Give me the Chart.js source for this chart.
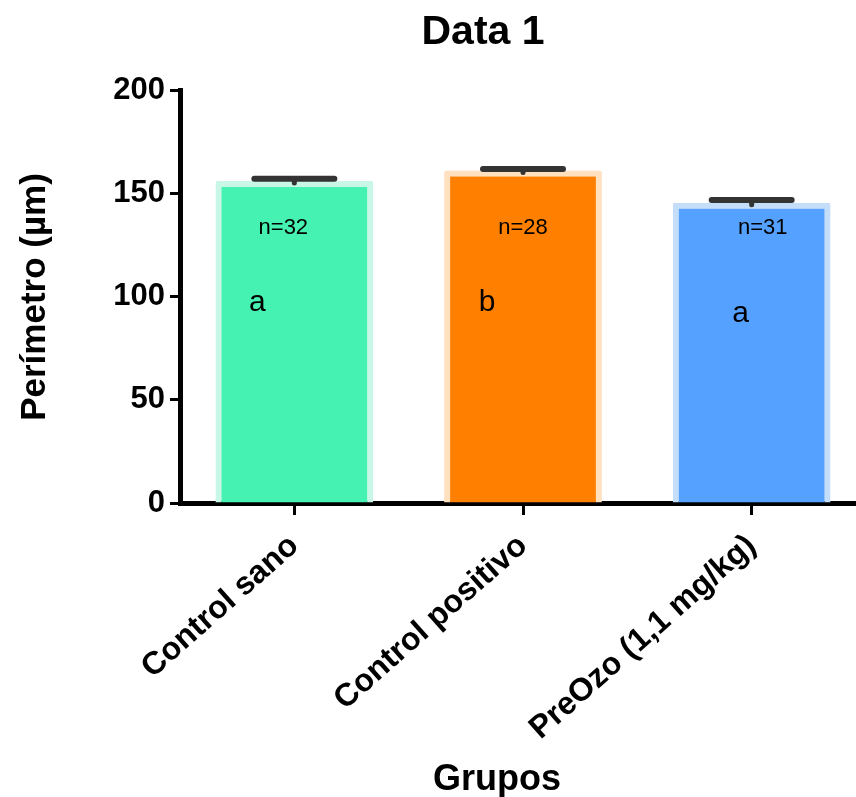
<!DOCTYPE html>
<html>
<head>
<meta charset="utf-8">
<script src="https://cdn.jsdelivr.net/npm/chart.js@4.4.0/dist/chart.umd.min.js"></script>
<style>
  html, body { margin: 0; padding: 0; background: #fff; overflow: hidden; }
  #wrap { width: 856px; height: 797px; overflow: hidden; }
</style>
</head>
<body>
<div id="wrap"><canvas id="chart" width="870" height="797" style="width:870px;height:797px"></canvas></div>
<script>
// chart values
const groups = ['Control sano', 'Control positivo', 'PreOzo (1,1 mg/kg)'];
const means = [155.9, 161.0, 145.4];
const sem = [1.1, 0.8, 1.3];
const nLabels = ['n=32', 'n=28', 'n=31'];
const letters = ['a', 'b', 'a'];
const yTicks = [0, 50, 100, 150, 200];

const fillColors = ['#45F2B2', '#FF8000', '#55A1FF'];
const edgeColors = ['#C9F7E7', '#FFE0BF', '#C4DDF9'];

// where the text inside each bar sits (offset from bar centre, value on y axis)
const nPos = { dx: [-11, 0, 11], y: [133, 133, 133] };
const letterPos = { dx: [-37, -36, -11], y: [97, 97, 91.5] };

const errorBars = {
  id: 'errorBars',
  afterDatasetsDraw(chart) {
    const ctx = chart.ctx;
    const y = chart.scales.y;
    const bars = chart.getDatasetMeta(0).data;
    ctx.save();
    ctx.strokeStyle = '#333';
    ctx.lineCap = 'round';
    bars.forEach((bar, i) => {
      const top = y.getPixelForValue(means[i] + sem[i]);
      const mid = y.getPixelForValue(means[i]);
      ctx.lineWidth = 5;
      ctx.beginPath();
      ctx.moveTo(bar.x, mid + 2);
      ctx.lineTo(bar.x, top);
      ctx.stroke();
      ctx.lineWidth = 6;
      ctx.beginPath();
      ctx.moveTo(bar.x - 40, top);
      ctx.lineTo(bar.x + 40, top);
      ctx.stroke();
    });
    ctx.restore();
  }
};

const labelsAndTitles = {
  id: 'labelsAndTitles',
  afterDraw(chart) {
    const ctx = chart.ctx;
    const y = chart.scales.y;
    const bars = chart.getDatasetMeta(0).data;
    ctx.save();
    ctx.fillStyle = '#000';
    ctx.textAlign = 'center';
    ctx.textBaseline = 'middle';
    bars.forEach((bar, i) => {
      ctx.font = '22px "Liberation Sans"';
      ctx.fillText(nLabels[i], bar.x + nPos.dx[i], y.getPixelForValue(nPos.y[i]));
      ctx.font = '30px "Liberation Sans"';
      ctx.fillText(letters[i], bar.x + letterPos.dx[i], y.getPixelForValue(letterPos.y[i]));
    });

    ctx.textBaseline = 'alphabetic';
    ctx.font = 'bold 41px "Liberation Sans"';
    ctx.fillText('Data 1', 483, 44);
    ctx.font = 'bold 36px "Liberation Sans"';
    ctx.fillText('Grupos', 497, 790);

    ctx.translate(45, 297);
    ctx.rotate(-Math.PI / 2);
    ctx.font = 'bold 35px "Liberation Sans"';
    ctx.fillText('Perímetro (µm)', 0, 0);
    ctx.restore();
  }
};

new Chart(document.getElementById('chart'), {
  type: 'bar',
  data: {
    labels: groups,
    datasets: [{
      data: means,
      backgroundColor: fillColors,
      borderColor: edgeColors,
      borderWidth: 6,
      borderRadius: 2,
      borderSkipped: 'start',
      barPercentage: 0.69,
      categoryPercentage: 1.0
    }]
  },
  options: {
    responsive: false,
    animation: false,
    layout: { padding: { top: 90, right: 4, bottom: 0, left: 0 } },
    plugins: { legend: { display: false }, tooltip: { enabled: false } },
    scales: {
      x: {
        afterFit(scale) { scale.height = 294; },
        grid: { display: true, drawOnChartArea: false, offset: false, tickLength: 12, tickWidth: 3, tickColor: '#000' },
        border: { display: true, width: 5, color: '#000' },
        ticks: {
          color: '#000',
          font: { family: 'Liberation Sans', size: 32, weight: 'bold' },
          minRotation: 41.5, maxRotation: 41.5, autoSkip: false, padding: 12
        }
      },
      y: {
        min: 0, max: 200,
        afterFit(scale) { scale.width = 180; },
        afterBuildTicks(scale) { scale.ticks = yTicks.map(v => ({ value: v })); },
        grid: { display: true, drawOnChartArea: false, tickLength: 10, tickWidth: 3, tickColor: '#000' },
        border: { display: true, width: 5, color: '#000' },
        ticks: {
          color: '#000',
          font: { family: 'Liberation Sans', size: 31, weight: 'bold' },
          padding: 5
        }
      }
    }
  },
  plugins: [errorBars, labelsAndTitles]
});
</script>
</body>
</html>
